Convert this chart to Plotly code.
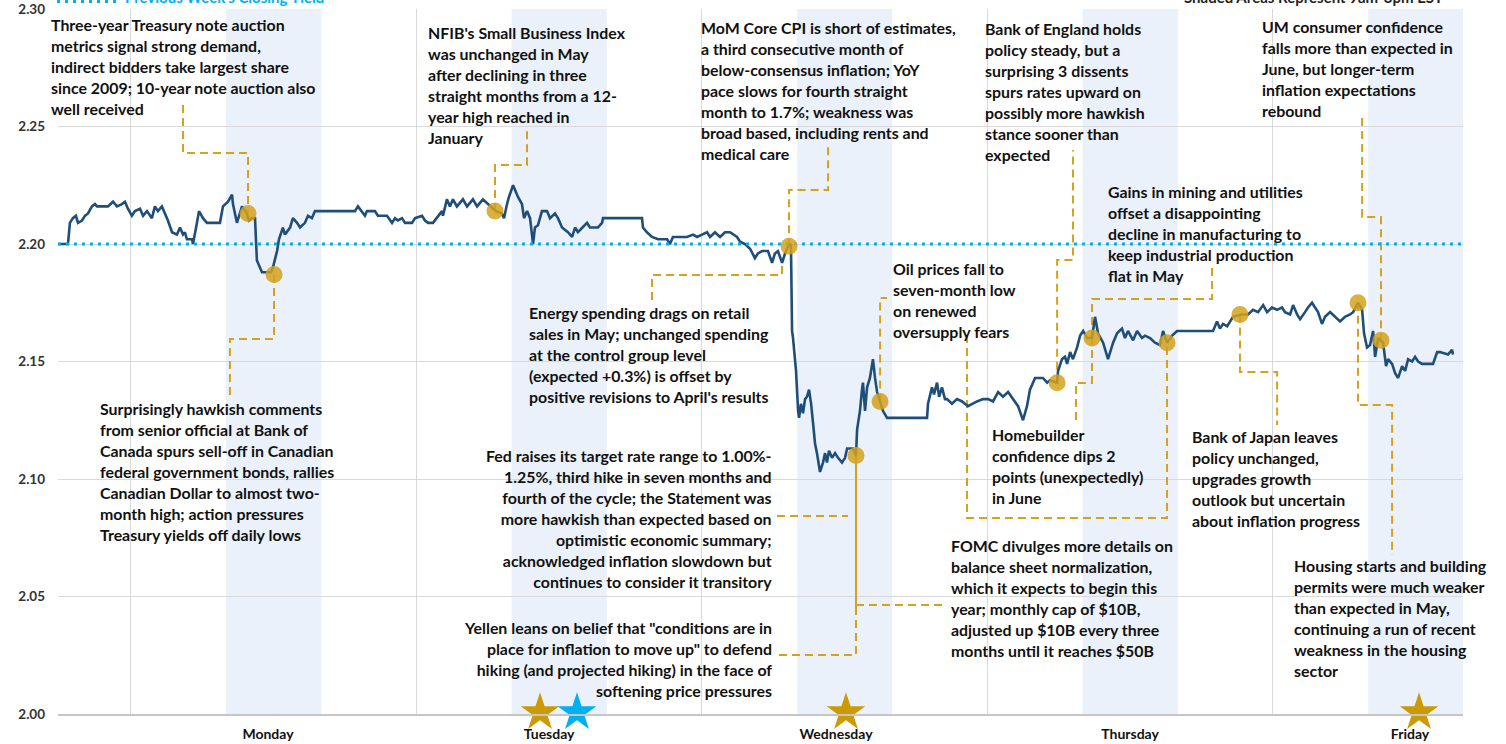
import plotly.graph_objects as go

# x = session hours; each trading day is drawn as an 18-hour block (03:00-21:00), Monday 03:00 = 0
day_names = ["Monday", "Tuesday", "Wednesday", "Thursday", "Friday"]
day_label_hours = [8.64, 26.36, 44.45, 62.99, 80.64]
day_length = 18
session_open, session_close = 6, 12          # 9am-3pm EST within each block
x_range = [-4.60, 83.98]

hours = [-4.60, -3.97, -3.85, -3.66, -3.47, -3.34, -3.09, -2.90, -2.71, -2.46, -2.27, -2.14, -1.45, -1.32,
         -1.13, -0.88, -0.57, -0.38, -0.19, 0.06, 0.25, 0.57, 0.76, 1.01, 1.32, 1.51, 1.70, 1.95, 2.14, 2.33,
         2.59, 2.90, 3.09, 3.28, 3.40, 3.53, 3.85, 3.91, 4.16, 4.29, 4.54, 4.79, 5.61, 5.80, 6.12, 6.37, 6.43,
         6.68, 7.00, 7.31, 7.44, 7.63, 7.82, 7.94, 8.26, 8.58, 8.83, 8.95, 9.21, 9.33, 9.58, 9.71, 10.03,
         10.21, 10.47, 10.66, 10.97, 11.16, 11.41, 11.60, 11.79, 14.12, 14.31, 14.56, 14.75, 14.88, 15.38,
         15.57, 16.14, 16.46, 16.65, 16.83, 17.09, 17.28, 17.72, 17.91, 18.35, 18.54, 18.73, 19.04, 19.29,
         19.61, 19.67, 19.92, 20.11, 20.30, 20.55, 20.93, 21.19, 21.56, 21.82, 22.19, 22.51, 23.01, 23.39,
         23.52, 23.71, 23.83, 24.09, 24.21, 24.40, 24.65, 24.78, 24.97, 25.16, 25.35, 25.47, 25.66, 25.91,
         26.23, 26.42, 26.73, 26.92, 27.18, 27.36, 27.55, 27.81, 28.00, 28.18, 28.44, 28.75, 28.94, 29.44,
         29.70, 29.76, 32.22, 32.28, 32.53, 32.85, 33.23, 33.80, 33.98, 34.17, 34.62, 35.06, 35.44, 35.69,
         36.00, 36.32, 36.51, 36.82, 37.14, 37.45, 37.77, 37.96, 38.21, 38.40, 38.71, 39.03, 39.34, 39.53,
         39.79, 39.97, 40.16, 40.42, 40.60, 40.79, 41.05, 41.24, 41.42, 41.61, 41.68, 41.74, 41.93, 42.06,
         42.12, 42.24, 42.37, 42.50, 42.62, 42.75, 42.88, 43.00, 43.13, 43.25, 43.44, 43.63, 43.76, 43.88,
         44.01, 44.20, 44.39, 44.58, 44.83, 45.02, 45.15, 45.52, 45.71, 45.78, 45.96, 46.09, 46.15, 46.28,
         46.41, 46.59, 46.78, 46.91, 47.04, 47.23, 47.41, 47.67, 50.19, 50.25, 50.50, 50.63, 50.82, 50.95,
         51.13, 51.32, 51.45, 51.76, 52.08, 52.40, 52.77, 53.34, 53.72, 54.04, 54.35, 54.67, 54.98, 55.30,
         55.61, 55.93, 56.24, 56.49, 56.68, 57.00, 57.31, 57.50, 57.76, 57.94, 58.39, 58.45, 58.70, 58.89,
         59.02, 59.21, 59.39, 59.65, 59.84, 60.03, 60.28, 60.59, 60.78, 60.97, 61.29, 61.60, 61.92, 62.17,
         62.48, 62.67, 62.86, 63.18, 63.43, 63.74, 63.93, 64.25, 64.56, 64.88, 65.07, 65.32, 65.64, 65.95,
         68.22, 68.47, 68.66, 68.85, 69.11, 69.48, 69.99, 70.43, 70.74, 71.06, 71.38, 71.63, 71.94, 72.26,
         72.57, 72.76, 73.08, 73.27, 73.52, 73.71, 74.02, 74.21, 74.46, 74.65, 74.84, 75.09, 75.28, 75.60,
         75.92, 76.23, 76.54, 76.86, 77.05, 77.36, 77.62, 77.74, 77.93, 78.12, 78.31, 78.44, 78.63, 78.81,
         78.94, 79.13, 79.26, 79.51, 79.70, 79.89, 80.14, 80.33, 80.52, 80.77, 80.96, 81.15, 81.40, 82.09,
         82.35, 82.53, 83.04, 83.29, 83.35]

yields = [2.200, 2.200, 2.209, 2.211, 2.212, 2.209, 2.210, 2.212, 2.213, 2.216, 2.217, 2.216, 2.216, 2.217,
          2.218, 2.216, 2.217, 2.218, 2.215, 2.212, 2.214, 2.215, 2.212, 2.214, 2.211, 2.216, 2.214, 2.216,
          2.213, 2.210, 2.205, 2.204, 2.207, 2.204, 2.205, 2.202, 2.202, 2.200, 2.209, 2.214, 2.211, 2.209,
          2.209, 2.216, 2.218, 2.221, 2.217, 2.209, 2.216, 2.213, 2.210, 2.211, 2.211, 2.193, 2.188, 2.188,
          2.188, 2.190, 2.197, 2.202, 2.207, 2.204, 2.207, 2.211, 2.209, 2.207, 2.209, 2.212, 2.211, 2.214,
          2.214, 2.214, 2.216, 2.214, 2.212, 2.214, 2.214, 2.212, 2.212, 2.209, 2.211, 2.210, 2.211, 2.209,
          2.209, 2.211, 2.212, 2.210, 2.209, 2.209, 2.211, 2.214, 2.212, 2.219, 2.216, 2.219, 2.216, 2.219,
          2.216, 2.219, 2.216, 2.219, 2.217, 2.214, 2.213, 2.211, 2.217, 2.220, 2.225, 2.223, 2.220, 2.217,
          2.211, 2.214, 2.211, 2.200, 2.207, 2.208, 2.214, 2.214, 2.211, 2.213, 2.211, 2.207, 2.206, 2.205,
          2.203, 2.207, 2.205, 2.207, 2.209, 2.207, 2.207, 2.209, 2.211, 2.211, 2.207, 2.205, 2.203, 2.202,
          2.202, 2.200, 2.203, 2.203, 2.203, 2.204, 2.203, 2.204, 2.205, 2.203, 2.205, 2.203, 2.205, 2.205,
          2.204, 2.203, 2.201, 2.200, 2.198, 2.194, 2.196, 2.197, 2.197, 2.197, 2.192, 2.196, 2.197, 2.192,
          2.196, 2.199, 2.200, 2.163, 2.160, 2.146, 2.129, 2.126, 2.132, 2.128, 2.134, 2.135, 2.138, 2.132,
          2.124, 2.115, 2.111, 2.103, 2.107, 2.111, 2.107, 2.112, 2.109, 2.111, 2.109, 2.107, 2.109, 2.113,
          2.113, 2.110, 2.121, 2.129, 2.138, 2.141, 2.129, 2.139, 2.143, 2.151, 2.143, 2.137, 2.133, 2.129,
          2.126, 2.126, 2.132, 2.139, 2.136, 2.141, 2.135, 2.139, 2.134, 2.134, 2.132, 2.134, 2.133, 2.131,
          2.133, 2.134, 2.134, 2.133, 2.137, 2.135, 2.137, 2.134, 2.131, 2.125, 2.131, 2.138, 2.143, 2.143,
          2.143, 2.141, 2.142, 2.141, 2.146, 2.151, 2.152, 2.149, 2.154, 2.151, 2.156, 2.161, 2.163, 2.160,
          2.160, 2.169, 2.162, 2.158, 2.151, 2.158, 2.162, 2.164, 2.160, 2.163, 2.159, 2.163, 2.160, 2.161,
          2.160, 2.158, 2.157, 2.163, 2.158, 2.161, 2.163, 2.163, 2.167, 2.164, 2.166, 2.165, 2.169, 2.170,
          2.170, 2.172, 2.171, 2.174, 2.171, 2.173, 2.172, 2.173, 2.171, 2.170, 2.174, 2.170, 2.168, 2.171,
          2.173, 2.175, 2.173, 2.171, 2.166, 2.169, 2.171, 2.169, 2.167, 2.169, 2.170, 2.171, 2.175, 2.172,
          2.162, 2.156, 2.157, 2.163, 2.152, 2.160, 2.159, 2.158, 2.148, 2.151, 2.149, 2.145, 2.143, 2.148,
          2.146, 2.151, 2.150, 2.152, 2.150, 2.149, 2.149, 2.154, 2.154, 2.153, 2.155, 2.153]

prev_week_close = 2.20

event_hours = [7.38, 9.02, 22.95, 41.49, 45.71, 47.23, 58.39, 60.59, 65.32, 69.92, 77.36, 78.81]
event_yields = [2.213, 2.187, 2.214, 2.199, 2.110, 2.133, 2.141, 2.160, 2.158, 2.170, 2.175, 2.159]

gold_star_hours = [25.79, 45.08, 81.21]
blue_star_hours = [28.12]
star_level = 2.0006

# leader lines (hours, yield) from each note to its event
leaders = [
    ([3.28, 3.28, 7.38, 7.38], [2.2591, 2.2387, 2.2387, 2.2132]),
    ([9.02, 9.02, 6.24, 6.24], [2.1868, 2.1596, 2.1596, 2.1357]),
    ([22.95, 22.95, 24.97, 24.97], [2.2140, 2.2336, 2.2336, 2.2494]),
    ([41.49, 41.49, 43.95, 43.95], [2.1990, 2.2230, 2.2230, 2.2430]),
    ([32.85, 32.85, 41.05, 41.05], [2.1762, 2.1868, 2.1868, 2.1923]),
    ([40.73, 45.21], [2.0843, 2.0843]),
    ([45.71, 45.71, 40.79], [2.0455, 2.0251, 2.0251]),
    ([45.71, 51.32], [2.0464, 2.0464]),
    ([47.23, 47.23, 47.67], [2.1330, 2.1770, 2.1770]),
    ([52.71, 52.71, 65.32, 65.32], [2.1613, 2.0834, 2.0834, 2.1580]),
    ([58.39, 58.39, 59.39, 59.39], [2.1410, 2.1932, 2.1932, 2.2400]),
    ([59.58, 59.58, 60.59, 60.59], [2.1251, 2.1409, 2.1409, 2.1600]),
    ([60.59, 60.59, 68.16, 68.16], [2.1600, 2.1766, 2.1766, 2.1898]),
    ([69.92, 69.92, 72.26, 72.26], [2.1700, 2.1455, 2.1455, 2.1230]),
    ([77.36, 77.36, 79.51, 79.51], [2.1750, 2.1315, 2.1315, 2.0677]),
    ([77.62, 77.62, 78.81, 78.81], [2.2536, 2.2115, 2.2115, 2.1587]),
]
fomc_press_line = ([45.71, 45.71], [2.110, 2.0455])

notes = [
    ("Three-year Treasury note auction<br>metrics signal strong demand,<br>indirect bidders take largest share<br>since 2009; 10-year note auction also<br>well received", -0.0064, 0.9191, "left"),
    ("Surprisingly hawkish comments<br>from senior official at Bank of<br>Canada spurs sell-off in Canadian<br>federal government bonds, rallies<br>Canadian Dollar to almost two-<br>month high; action pressures<br>Treasury yields off daily lows", 0.0285, 0.3440, "left"),
    ("NFIB's Small Business Index<br>was unchanged in May<br>after declining in three<br>straight months from a 12-<br>year high reached in<br>January", 0.2619, 0.8922, "left"),
    ("MoM Core CPI is short of estimates,<br>a third consecutive month of<br>below-consensus inflation; YoY<br>pace slows for fourth straight<br>month to 1.7%; weakness was<br>broad based, including rents and<br>medical care", 0.4562, 0.8844, "left"),
    ("Bank of England holds<br>policy steady, but a<br>surprising 3 dissents<br>spurs rates upward on<br>possibly more hawkish<br>stance sooner than<br>expected", 0.6584, 0.8830, "left"),
    ("UM consumer confidence<br>falls more than expected in<br>June, but longer-term<br>inflation expectations<br>rebound", 0.8555, 0.9163, "left"),
    ("Gains in mining and utilities<br>offset a disappointing<br>decline in manufacturing to<br>keep industrial production<br>flat in May", 0.7459, 0.6809, "left"),
    ("Energy spending drags on retail<br>sales in May; unchanged spending<br>at the control group level<br>(expected +0.3%) is offset by<br>positive revisions to April's results", 0.3338, 0.5106, "left"),
    ("Fed raises its target rate range to 1.00%-<br>1.25%, third hike in seven months and<br>fourth of the cycle; the Statement was<br>more hawkish than expected based on<br>optimistic economic summary;<br>acknowledged inflation slowdown but<br>continues to consider it transitory", 0.5096, 0.2766, "right"),
    ("Yellen leans on belief that \"conditions are in<br>place for inflation to move up\" to defend<br>hiking (and projected hiking) in the face of<br>softening price pressures", 0.5096, 0.0787, "right"),
    ("Oil prices fall to<br>seven-month low<br>on renewed<br>oversupply fears", 0.5929, 0.5872, "left"),
    ("Homebuilder<br>confidence dips 2<br>points (unexpectedly)<br>in June", 0.6633, 0.3511, "left"),
    ("FOMC divulges more details on<br>balance sheet normalization,<br>which it expects to begin this<br>year; monthly cap of $10B,<br>adjusted up $10B every three<br>months until it reaches $50B", 0.6342, 0.1652, "left"),
    ("Bank of Japan leaves<br>policy unchanged,<br>upgrades growth<br>outlook but uncertain<br>about inflation progress", 0.8057, 0.3340, "left"),
    ("Housing starts and building<br>permits were much weaker<br>than expected in May,<br>continuing a run of recent<br>weakness in the housing<br>sector", 0.8783, 0.1355, "left"),
]

FONT = "Lato, 'Open Sans', sans-serif"
NAVY = "#1f4e79"
GOLD = "#d4a21c"
SKY = "#00b0f0"
SHADE = "#eaf1fa"
GRID = "#d9d9d9"

fig = go.Figure()

for lx, ly in leaders:
    fig.add_trace(go.Scatter(x=lx, y=ly, mode="lines", hoverinfo="skip", showlegend=False,
                             line=dict(color=GOLD, width=2, dash="8px,5px")))
fig.add_trace(go.Scatter(x=fomc_press_line[0], y=fomc_press_line[1], mode="lines", hoverinfo="skip",
                         showlegend=False, line=dict(color=GOLD, width=2)))

fig.add_trace(go.Scatter(x=hours, y=yields, mode="lines", showlegend=False,
                         line=dict(color=NAVY, width=2.6)))

fig.add_trace(go.Scatter(x=x_range, y=[prev_week_close, prev_week_close], mode="lines", showlegend=False,
                         hoverinfo="skip", line=dict(color=SKY, width=3, dash="3px,5px")))

fig.add_trace(go.Scatter(x=event_hours, y=event_yields, mode="markers", showlegend=False,
                         marker=dict(size=17, color=GOLD, opacity=0.85, line=dict(width=0))))

fig.add_trace(go.Scatter(x=gold_star_hours, y=[star_level] * len(gold_star_hours), mode="markers",
                         showlegend=False, cliponaxis=False,
                         marker=dict(symbol="star", size=29, color="#cc9a06", line=dict(width=0))))
fig.add_trace(go.Scatter(x=blue_star_hours, y=[star_level] * len(blue_star_hours), mode="markers",
                         showlegend=False, cliponaxis=False,
                         marker=dict(symbol="star", size=29, color=SKY, line=dict(width=0))))

shapes = []
for d in range(len(day_names)):
    shapes.append(dict(type="rect", xref="x", yref="paper", x0=d * day_length + session_open,
                       x1=d * day_length + session_close, y0=0, y1=1, fillcolor=SHADE,
                       line=dict(width=0), layer="below"))
# legend sample for previous week's close
shapes.append(dict(type="line", xref="paper", yref="paper", x0=-0.0007, x1=0.0427, y0=1.0106, y1=1.0106,
                   line=dict(color=SKY, width=3, dash="3px,5px")))

annotations = []
for text, ax_, ay_, align in notes:
    annotations.append(dict(text='<span style="font-size:15.9px">' + text + "</span>", xref="paper",
                            yref="paper", x=ax_, y=ay_, xanchor=align, yanchor="middle", align=align,
                            showarrow=False,
                            font=dict(family=FONT, size=16.15, color="#111111", weight="bold")))
annotations.append(dict(text="Previous Week's Closing Yield", xref="paper", yref="paper",
                        x=0.0463, y=1.0170, xanchor="left", yanchor="middle", showarrow=False,
                        font=dict(family=FONT, size=15, color=SKY, weight="bold")))
annotations.append(dict(text="Shaded Areas Represent 9am-3pm EST", xref="paper", yref="paper",
                        x=0.9872, y=1.0170, xanchor="right", yanchor="middle", showarrow=False,
                        font=dict(family=FONT, size=15, color="#222222", weight="bold")))

fig.update_layout(
    width=1506, height=744,
    margin=dict(l=58, r=43, t=9, b=30, autoexpand=False),
    plot_bgcolor="white", paper_bgcolor="white",
    font=dict(family=FONT, color="#111111"),
    shapes=shapes, annotations=annotations,
    xaxis=dict(range=x_range, tickmode="array", tickvals=day_label_hours, ticktext=day_names,
               showgrid=False, zeroline=False, automargin=False,
               ticks="", ticklabelstandoff=6, tickfont=dict(size=14, color="#111111", weight="bold"),
               minor=dict(tick0=0, dtick=day_length, showgrid=True, gridcolor=GRID, gridwidth=1),
               showline=True, linecolor="#c6c6c6", linewidth=2),
    yaxis=dict(range=[2.00, 2.30], tick0=2.0, dtick=0.05, tickformat=".2f", showgrid=True,
               gridcolor=GRID, gridwidth=1, zeroline=False, ticks="", ticklabelstandoff=12,
               automargin=False, tickfont=dict(size=13.5, color="#333333", weight="bold")),
)

fig.write_html("out.html")
